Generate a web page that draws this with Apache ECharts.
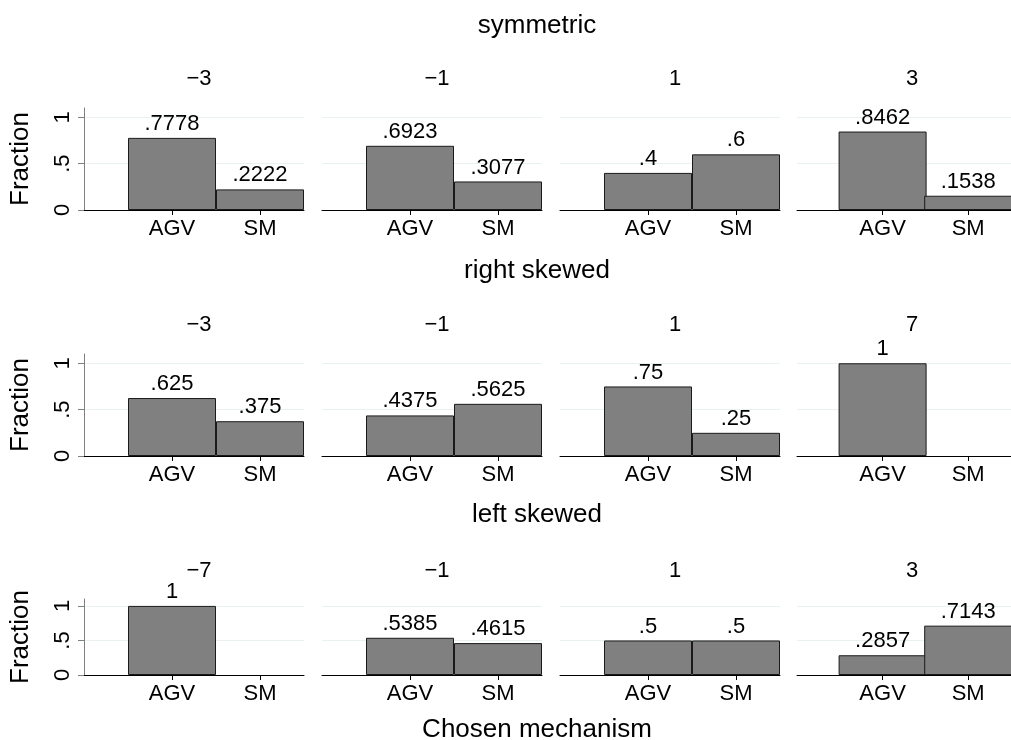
<!DOCTYPE html>
<html>
<head>
<meta charset="utf-8">
<script src="https://cdn.jsdelivr.net/npm/echarts@6/dist/echarts.min.js"></script>
<style>
  html, body { margin: 0; padding: 0; background: #fff; }
  #main { width: 1011px; height: 740px; }
</style>
</head>
<body>
<div id="main"></div>
<script>
// data
var rowTitles = ['symmetric', 'right skewed', 'left skewed'];
var colHeaders = [
    ['\u22123', '\u22121', '1', '3'],
    ['\u22123', '\u22121', '1', '7'],
    ['\u22127', '\u22121', '1', '3']
];
var mechanisms = ['AGV', 'SM'];
var agvShare = [
    [0.7778, 0.6923, 0.4, 0.8462],
    [0.625, 0.4375, 0.75, 1],
    [1, 0.5385, 0.5, 0.2857]
];
var smShare = [
    [0.2222, 0.3077, 0.6, 0.1538],
    [0.375, 0.5625, 0.25, 0],
    [0, 0.4615, 0.5, 0.7143]
];
var yTicks = [0, 0.5, 1];

// layout
var FONT = 'Liberation Sans, Arial, sans-serif';
var colLeft = [84, 322, 560, 797];
var plotW = 220;
var rowTop = [108, 354, 599];
var rowH = [102, 102, 76];
var rowTitleY = [21, 266, 510];
var headerY = [74, 320, 566];
var centerX = 532;

var chart = echarts.init(document.getElementById('main'));

// Stata style number: .7778 instead of 0.7778
function stataNum(v) {
    return String(v).replace(/^0\./, '.').replace(/^-0\./, '-.');
}

var grids = [], xAxes = [], yAxes = [], series = [], titles = [];

rowTitles.forEach(function (t, r) {
    titles.push({
        text: t, left: centerX, top: rowTitleY[r], textAlign: 'center', textVerticalAlign: 'middle',
        textStyle: { fontFamily: FONT, fontSize: 26, fontWeight: 'normal', color: '#000' }
    });
    for (var c = 0; c < 4; c++) {
        var idx = grids.length;
        grids.push({ left: colLeft[c], top: rowTop[r], width: plotW, height: rowH[r] });
        titles.push({
            text: colHeaders[r][c], left: colLeft[c] + plotW / 2, top: headerY[r],
            textAlign: 'center', textVerticalAlign: 'middle',
            textStyle: { fontFamily: FONT, fontSize: 22, fontWeight: 'normal', color: '#000' }
        });
        xAxes.push({
            type: 'value', gridIndex: idx, min: 0, max: 2.5,
            axisLine: { show: true, lineStyle: { color: '#000', width: 1 } },
            axisTick: { show: true, length: 5, customValues: [1, 2], lineStyle: { color: '#000' } },
            axisLabel: {
                customValues: [1, 2], margin: 8, fontFamily: FONT, fontSize: 22, color: '#000',
                formatter: function (v) { return mechanisms[Math.round(v) - 1] || ''; }
            },
            splitLine: { show: false }
        });
        var first = c === 0;
        yAxes.push({
            type: 'value', gridIndex: idx, min: 0, max: 1.1,
            name: first ? 'Fraction' : '', nameLocation: 'middle', nameGap: 50,
            nameTextStyle: { fontFamily: FONT, fontSize: 26, color: '#000' },
            axisLine: { show: first, lineStyle: { color: '#808080', width: 1 } },
            axisTick: { show: first, length: 6, customValues: yTicks, lineStyle: { color: '#808080' } },
            axisLabel: {
                show: first, customValues: yTicks, rotate: 90, margin: 10,
                fontFamily: FONT, fontSize: 22, color: '#000',
                formatter: function (v) { return stataNum(v); }
            },
            splitLine: { show: true, lineStyle: { color: '#eaf1f3', width: 1 } }
        });
        var pts = [];
        if (agvShare[r][c] > 0) pts.push([1, agvShare[r][c]]);
        if (smShare[r][c] > 0) pts.push([2, smShare[r][c]]);
        series.push({
            type: 'bar', xAxisIndex: idx, yAxisIndex: idx, data: pts,
            barWidth: plotW / 2.5,
            itemStyle: { color: '#808080', borderColor: '#1a1a1a', borderWidth: 1 },
            label: {
                show: true, position: 'top', distance: 3,
                fontFamily: FONT, fontSize: 22, color: '#000',
                formatter: function (p) { return stataNum(p.value[1]); }
            },
            silent: true, animation: false
        });
    }
});

titles.push({
    text: 'Chosen mechanism', left: centerX, top: 725, textAlign: 'center', textVerticalAlign: 'middle',
    textStyle: { fontFamily: FONT, fontSize: 26, fontWeight: 'normal', color: '#000' }
});

chart.setOption({
    backgroundColor: '#fff',
    animation: false,
    title: titles,
    grid: grids,
    xAxis: xAxes,
    yAxis: yAxes,
    series: series
});
</script>
</body>
</html>
